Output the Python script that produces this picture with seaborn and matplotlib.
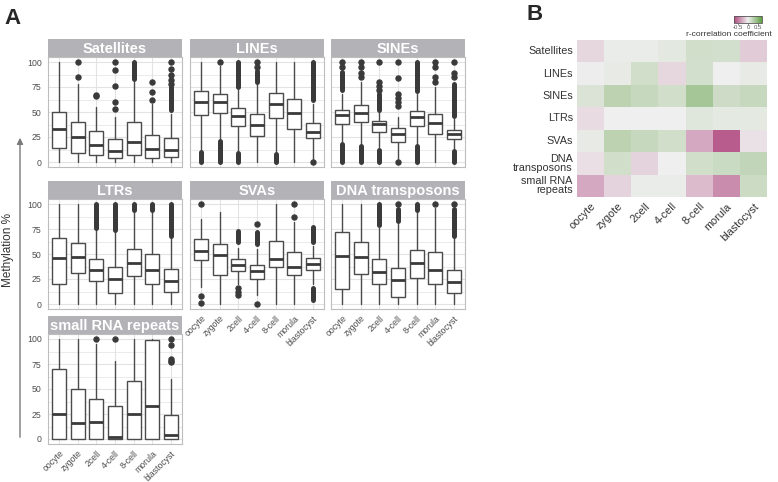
import matplotlib
matplotlib.use('Agg')
import numpy as np
import pandas as pd
import seaborn as sns
import matplotlib.pyplot as plt
from matplotlib.colors import LinearSegmentedColormap

stages = ['oocyte', 'zygote', '2cell', '4-cell', '8-cell', 'morula', 'blastocyst']
families = ['Satellites', 'LINEs', 'SINEs', 'LTRs', 'SVAs', 'DNA transposons', 'small RNA repeats']
y_ticks = [0, 25, 50, 75, 100]

# box statistics (methylation %)
q1 = {
    'Satellites': [14, 9, 7.5, 4, 7.5, 4.5, 5],
    'LINEs': [47.5, 49, 36, 26.5, 44.5, 33, 24],
    'SINEs': [38, 40, 30.4, 20.5, 36, 28, 22.8],
    'LTRs': [20, 31.5, 23, 11.5, 28, 20, 12],
    'SVAs': [43.7, 29.5, 32.8, 24.8, 37, 29.5, 33.8],
    'DNA transposons': [15, 30.5, 20.5, 6.6, 26.5, 20.5, 10.6],
    'small RNA repeats': [0, 0, 0, 0, 0, 0, 0],
}
med = {
    'Satellites': [33, 25, 17, 11, 20, 13, 12.5],
    'LINEs': [60, 60, 46, 37, 58, 49.5, 30.4],
    'SINEs': [47, 49, 38, 27.7, 45, 39, 27.7],
    'LTRs': [46.5, 47, 34, 25.5, 41.5, 34.5, 23],
    'SVAs': [53, 48.7, 38.7, 32.8, 45.4, 37, 39.7],
    'DNA transposons': [47.7, 47, 32, 23.8, 41, 34.4, 22],
    'small RNA repeats': [25, 16, 17, 2, 25, 33, 4],
}
q3 = {
    'Satellites': [50, 40, 31, 23, 40, 27, 24],
    'LINEs': [71, 68, 54, 48, 69, 63, 38.6],
    'SINEs': [52.5, 57, 41, 33.7, 51, 48, 32],
    'LTRs': [66, 61, 45, 37, 55, 50, 35],
    'SVAs': [65, 60, 44.7, 39.4, 63.5, 52, 46.4],
    'DNA transposons': [72, 62, 44.7, 36.4, 54, 52, 34.4],
    'small RNA repeats': [70, 50, 40, 33, 58, 99, 24],
}
whis_lo = {
    'Satellites': [0, 0, 0, 0, 0, 0, 0],
    'LINEs': [12, 23, 11, 0, 10, 0, 3],
    'SINEs': [20, 18, 15, 3, 18, 0, 13],
    'LTRs': [0, 0, 0, 0, 0, 0, 0],
    'SVAs': [17, 0, 20, 9, 0, 0, 20],
    'DNA transposons': [0, 0, 0, 0, 0, 0, 0],
    'small RNA repeats': [0, 0, 0, 0, 0, 0, 0],
}
whis_hi = {
    'Satellites': [100, 78, 55, 45, 80, 58, 48],
    'LINEs': [100, 96, 72, 78, 100, 100, 58],
    'SINEs': [68, 80, 50, 45, 68, 75, 43],
    'LTRs': [100, 100, 74, 72, 92, 92, 66],
    'SVAs': [85, 92, 56, 55, 100, 82, 58],
    'DNA transposons': [100, 100, 76, 80, 92, 96, 66],
    'small RNA repeats': [100, 100, 95, 78, 100, 100, 60],
}
# single outlier points
outliers = {
    'Satellites': [[], [100, 85], [66, 67], [100, 92, 76, 60, 53], [], [80, 70, 62], [100, 93, 87, 82, 78]],
    'LINEs': [[], [100], [], [100, 95], [], [], [0]],
    'SINEs': [[100, 95], [100, 95, 89, 85], [100, 80, 76, 72], [100, 84, 68, 64, 60, 56, 0], [], [100, 95, 85, 80], [100, 89, 85]],
    'LTRs': [[], [], [], [], [], [], []],
    'SVAs': [[100, 8, 1.5], [], [16, 12, 9], [80, 0], [], [100, 87], []],
    'DNA transposons': [[], [], [], [100], [], [100], [100]],
    'small RNA repeats': [[], [], [100], [100], [], [], [100, 94, 80, 78, 77]],
}
# stretches where outliers overlap into a solid bar (from, to)
outlier_runs = {
    'Satellites': [[], [], [], [], [(83, 100)], [], [(52, 75)]],
    'LINEs': [[(0, 10)], [(0, 21)], [(75, 100), (0, 9)], [(80, 91)], [(0, 8)], [], [(62, 100)]],
    'SINEs': [[(72, 90), (0, 18)], [(0, 16)], [(52, 68), (0, 12)], [], [(71, 100), (0, 16)], [], [(46, 78), (0, 11)]],
    'LTRs': [[], [], [(76, 100)], [(74, 100)], [(94, 100)], [(94, 100)], [(68, 100)]],
    'SVAs': [[], [], [(62, 73)], [(60, 72)], [], [], [(62, 77), (4, 16)]],
    'DNA transposons': [[], [], [(79, 100)], [(83, 95)], [(94, 100)], [], [(68, 95)]],
    'small RNA repeats': [[], [], [], [], [], [], []],
}

# panel B: correlation coefficients (rows = families, cols = stages)
corr_values = [
    [-0.10, 0.03, 0.03, 0.06, 0.15, 0.14, -0.15],
    [-0.01, 0.04, 0.15, -0.10, 0.14, 0.00, 0.04],
    [0.10, 0.25, 0.20, 0.15, 0.36, 0.16, 0.20],
    [-0.08, 0.00, 0.00, 0.00, 0.08, 0.05, 0.05],
    [0.04, 0.25, 0.20, 0.15, -0.30, -0.62, -0.06],
    [-0.07, 0.15, -0.12, 0.00, 0.15, 0.18, 0.22],
    [-0.30, -0.12, 0.03, 0.03, -0.22, -0.42, 0.17],
]
heat_rows = ['Satellites', 'LINEs', 'SINEs', 'LTRs', 'SVAs', 'DNA\ntransposons', 'small RNA\nrepeats']

W, H = 778, 482
sns.set_theme(style='white')
plt.rcParams['font.family'] = ['Liberation Sans', 'DejaVu Sans']

fig = plt.figure(figsize=(W / 100, H / 100), dpi=100)
fig.patch.set_facecolor('white')


def px_axes(x, y, w, h):
    return fig.add_axes([x / W, 1 - (y + h) / H, w / W, h / H])


box_color = '#4b4b4b'
grid_color = '#e3e3e3'
strip_color = '#b2b2b7'

col_left = [48, 190, 331]
row_top = [57, 199, 334]
panel_w, panel_h, strip_h = 134, 110, 18
layout = {
    'Satellites': (0, 0), 'LINEs': (0, 1), 'SINEs': (0, 2),
    'LTRs': (1, 0), 'SVAs': (1, 1), 'DNA transposons': (1, 2),
    'small RNA repeats': (2, 0),
}
bottom_panels = ['small RNA repeats', 'SVAs', 'DNA transposons']

for fam in families:
    r, c = layout[fam]
    ax = px_axes(col_left[c], row_top[r], panel_w, panel_h)
    stats = []
    for i in range(len(stages)):
        stats.append(dict(med=med[fam][i], q1=q1[fam][i], q3=q3[fam][i],
                          whislo=whis_lo[fam][i], whishi=whis_hi[fam][i],
                          fliers=outliers[fam][i]))
    ax.bxp(stats, positions=range(len(stages)), widths=0.75, showcaps=False,
           patch_artist=True,
           boxprops=dict(facecolor='white', edgecolor=box_color, linewidth=1.0),
           medianprops=dict(color='#3a3a3a', linewidth=2.0),
           whiskerprops=dict(color=box_color, linewidth=1.0),
           flierprops=dict(marker='o', markerfacecolor='#3a3a3a', markeredgecolor='#3a3a3a',
                           markersize=3.6, linestyle='none'))
    for i, runs in enumerate(outlier_runs[fam]):
        for lo, hi in runs:
            ax.plot([i, i], [lo, hi], color='#3a3a3a', lw=3.6, solid_capstyle='round', zorder=4)
    ax.set_xlim(-0.6, 6.6)
    ax.set_ylim(-5, 105)
    ax.set_facecolor('white')
    ax.set_yticks(y_ticks)
    ax.set_yticks([12.5, 37.5, 62.5, 87.5], minor=True)
    ax.set_xticks(range(len(stages)))
    ax.grid(True, which='major', color=grid_color, lw=0.8, zorder=0)
    ax.grid(True, which='minor', axis='y', color=grid_color, lw=0.5, zorder=0)
    ax.set_axisbelow(True)
    for s in ax.spines.values():
        s.set_color('#bdbdbd')
        s.set_linewidth(0.8)
    ax.tick_params(which='major', length=2.5, width=0.6, color='#aaaaaa', labelsize=6.3,
                   labelcolor='#4d4d4d', pad=2)
    ax.tick_params(which='minor', length=0)
    if c == 0:
        ax.set_yticklabels([str(v) for v in y_ticks])
    else:
        ax.set_yticklabels([])
    if fam in bottom_panels:
        ax.set_xticklabels(stages, rotation=45, ha='right', rotation_mode='anchor', fontsize=6.3)
        ax.tick_params(axis='x', pad=1)
    else:
        ax.set_xticklabels([])

    sax = px_axes(col_left[c], row_top[r] - strip_h, panel_w, strip_h)
    sax.set_facecolor(strip_color)
    sax.set_xticks([])
    sax.set_yticks([])
    for s in sax.spines.values():
        s.set_visible(False)
    sax.text(0.5, 0.45, fam, ha='center', va='center', color='white', fontsize=10.5,
             fontweight='bold', transform=sax.transAxes)

# y label with arrow
fig.text(8 / W, 1 - 250 / H, 'Methylation %', rotation=90, ha='center', va='center',
         fontsize=8.5, color='#333333')
fig.add_artist(matplotlib.patches.FancyArrowPatch((20 / W, 1 - 440 / H), (20 / W, 1 - 135 / H),
                                                  transform=fig.transFigure, arrowstyle='-|>',
                                                  mutation_scale=9, color='#7a7a7a', lw=1.0))

fig.text(4 / W, 1 - 18 / H, 'A', fontsize=16, fontweight='bold', va='center', ha='left')
fig.text(527 / W, 1 - 14 / H, 'B', fontsize=16, fontweight='bold', va='center', ha='left')

# panel B heatmap
cmap = LinearSegmentedColormap.from_list('pg', ['#b04a80', '#efefef', '#5f9f42'])
df = pd.DataFrame(corr_values, index=heat_rows, columns=stages)
hax = px_axes(577, 40, 190, 157)
cax = px_axes(734, 16, 28, 7)
sns.heatmap(df, ax=hax, cmap=cmap, vmin=-0.7, vmax=0.7, cbar_ax=cax,
            cbar_kws={'orientation': 'horizontal', 'ticks': [-0.5, 0, 0.5]})
hax.tick_params(length=0, labelsize=7.8, labelcolor='#333333', pad=3)
hax.set_yticklabels(heat_rows, rotation=0, ha='right', linespacing=0.85)
hax.set_xticklabels(stages, rotation=45, ha='right', rotation_mode='anchor')
hax.set_xlabel('')
hax.set_ylabel('')
cax.tick_params(length=1.2, width=0.5, labelsize=4.3, pad=0.5, color='#555555', labelcolor='#555555')
cax.set_xticklabels(['-0.5', '0', '0.5'])
cbar = hax.collections[0].colorbar
cbar.outline.set_edgecolor('#555555')
cbar.outline.set_linewidth(0.6)
cbar.outline.set_visible(True)
fig.text(772 / W, 1 - 34 / H, 'r-correlation coefficient', ha='right', va='center',
         fontsize=6, color='#333333')

fig.savefig('out.png', dpi=100)
